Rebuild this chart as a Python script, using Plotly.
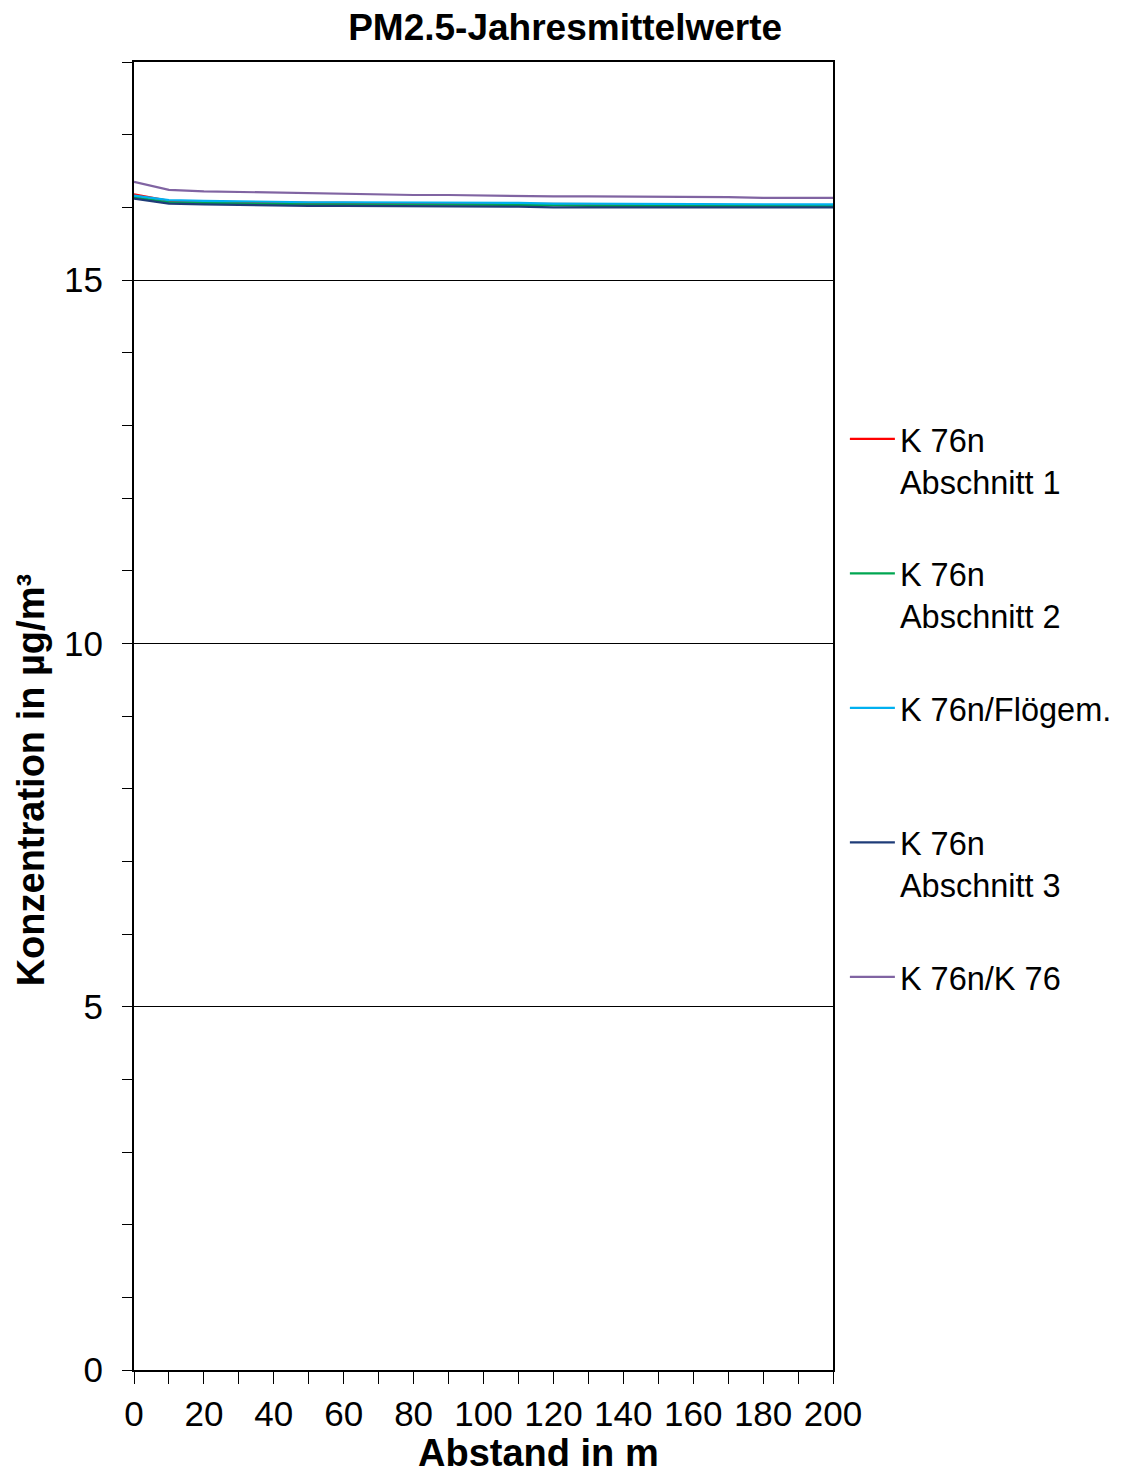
import plotly.graph_objects as go

abstand = [0, 10, 20, 30, 40, 50, 60, 70, 80, 90, 100, 110, 120, 130, 140, 150, 160, 170, 180, 190, 200]

k76n_abschnitt1 = [16.18, 16.09, 16.08, 16.07, 16.07, 16.06, 16.06, 16.05, 16.05, 16.05, 16.05, 16.04, 16.04, 16.04, 16.04, 16.04, 16.04, 16.03, 16.03, 16.03, 16.03]
k76n_abschnitt2 = [16.14, 16.07, 16.06, 16.05, 16.05, 16.04, 16.04, 16.04, 16.03, 16.03, 16.03, 16.03, 16.03, 16.02, 16.02, 16.02, 16.02, 16.02, 16.02, 16.02, 16.02]
k76n_floegem = [16.16, 16.10, 16.09, 16.08, 16.08, 16.07, 16.07, 16.07, 16.06, 16.06, 16.06, 16.06, 16.05, 16.05, 16.05, 16.05, 16.05, 16.05, 16.04, 16.04, 16.04]
k76n_abschnitt3 = [16.12, 16.05, 16.04, 16.03, 16.03, 16.02, 16.02, 16.02, 16.01, 16.01, 16.01, 16.01, 16.00, 16.00, 16.00, 16.00, 16.00, 16.00, 16.00, 16.00, 16.00]
k76n_k76 = [16.35, 16.24, 16.22, 16.21, 16.20, 16.19, 16.18, 16.18, 16.17, 16.17, 16.16, 16.16, 16.15, 16.15, 16.15, 16.14, 16.14, 16.14, 16.13, 16.13, 16.13]

series = [
    ("K 76n<br>Abschnitt 1", k76n_abschnitt1, "#FF0000"),
    ("K 76n<br>Abschnitt 2", k76n_abschnitt2, "#00A651"),
    ("K 76n/Flögem.<br> ", k76n_floegem, "#00B0F0"),
    ("K 76n<br>Abschnitt 3", k76n_abschnitt3, "#1F3C78"),
    ("K 76n/K 76<br> ", k76n_k76, "#8064A2"),
]

fig = go.Figure()
for i, (name, vals, col) in enumerate(series):
    fig.add_trace(go.Scatter(x=abstand, y=vals, mode="lines", name=name,
                             line=dict(color=col, width=2.2), legendgroup=f"g{i}"))

font = "Liberation Sans, Arial, sans-serif"
fig.update_layout(
    width=1121, height=1472,
    margin=dict(l=126, r=296, t=54, b=110, autoexpand=False),
    paper_bgcolor="white", plot_bgcolor="white",
    font=dict(family=font, size=32, color="black"),
    title=dict(text="<b>PM2.5-Jahresmittelwerte</b>", x=0.497, xanchor="center",
               y=0.987, yanchor="middle", font=dict(size=37)),
    showlegend=True,
    legend=dict(x=1.017, xanchor="left", y=0.733, yanchor="top",
                font=dict(size=32.5), traceorder="grouped", tracegroupgap=47,
                itemwidth=45, valign="top", bgcolor="rgba(0,0,0,0)"),
    xaxis=dict(range=[0, 200], tickmode="linear", tick0=0, dtick=20,
               ticks="outside", ticklen=12, tickcolor="black", tickwidth=1,
               showline=True, linecolor="black", linewidth=2, mirror=True,
               showgrid=False, zeroline=False,
               minor=dict(dtick=10, ticks="outside", ticklen=12, tickcolor="black", showgrid=False),
               tickfont=dict(size=35)),
    yaxis=dict(range=[0, 18], tickmode="array", tickvals=[0, 5, 10, 15],
               ticks="outside", ticklen=10, tickcolor="black", tickwidth=1,
               showline=True, linecolor="black", linewidth=2, mirror=True,
               showgrid=True, gridcolor="black", gridwidth=1, zeroline=False,
               ticklabelstandoff=12,
               minor=dict(dtick=1, tick0=0, ticks="outside", ticklen=10, tickcolor="black", showgrid=False),
               tickfont=dict(size=35)),
)

fig.add_annotation(text="<b>Konzentration in µg/m³</b>", xref="paper", yref="paper",
                   x=-0.147, y=0.451, xanchor="center", yanchor="middle",
                   textangle=-90, showarrow=False, font=dict(size=38))
fig.add_annotation(text="<b>Abstand in m</b>", xref="paper", yref="paper",
                   x=0.579, y=-0.0635, xanchor="center", yanchor="middle",
                   showarrow=False, font=dict(size=38))

fig.write_html("out.html")
